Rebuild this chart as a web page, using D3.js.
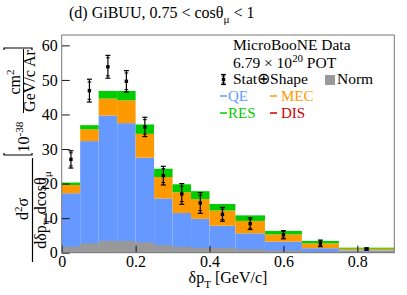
<!DOCTYPE html>
<html>
<head>
<meta charset="utf-8">
<script src="https://cdn.jsdelivr.net/npm/d3@7"></script>
<style>
  body { margin: 0; background: #fff; }
  text { font-family: "Liberation Serif", "Times New Roman", serif; }
</style>
</head>
<body>
<svg id="chart" width="407" height="295"></svg>
<script>
// ** Data **
const binEdges = [0, 0.05, 0.1, 0.15, 0.2, 0.25, 0.3, 0.35, 0.4, 0.47, 0.55, 0.65, 0.75, 0.9];
const qeVals   = [17.2, 32.3, 39.7, 37.5, 27.5, 15.7, 11.5, 9.8, 7.8, 5.6, 3.2, 1.3, 0.6];
const mecVals  = [2.4, 3.4, 4.9, 6.6, 6.9, 6.2, 6.0, 5.7, 4.4, 3.6, 2.1, 1.4, 0.55];
const disVals  = [0, 0, 0, 0, 0, 0, 0, 0, 0, 0, 0, 0, 0];
const resVals  = [0.7, 1.2, 2.2, 2.7, 2.7, 2.4, 2.3, 2.3, 1.9, 1.6, 1.0, 0.7, 0.3];
const normVals = [1.7, 2.7, 3.4, 3.4, 3.0, 2.2, 1.7, 1.4, 1.4, 1.0, 0.6, 0.3, 0.2];
const dataVals = [27.0, 46.9, 53.8, 49.6, 36.4, 22.3, 17.0, 14.4, 11.1, 8.4, 5.2, 2.7, 1.07];
const errTotal = [2.5, 3.3, 3.3, 3.1, 2.8, 2.7, 3.0, 3.0, 2.0, 1.7, 1.2, 0.95, 0.3];
const errStat  = [1.9, 2.5, 2.6, 2.4, 2.1, 2.0, 2.2, 2.2, 1.5, 1.3, 0.9, 0.7, 0.2];
const xTicks = [0, 0.2, 0.4, 0.6, 0.8];
const yTicks = [0, 10, 20, 30, 40, 50, 60];

// ** Style constants **
const colQE = "#6699ff", colMEC = "#ff9900", colRES = "#00cc00", colDIS = "#cc0000";
const colNorm = "#999999";
const font = 16;
const legFont = 15.5;
const legFontSmall = 15;

const svg = d3.select("#chart");
const plot = { left: 61.7, right: 394.3, top: 35, bottom: 252.7 };

const x = d3.scaleLinear().domain([0, 0.9]).range([plot.left, plot.right]);
const y = d3.scaleLinear().domain([0, 63]).range([plot.bottom, plot.top]);

// build bins
const bins = qeVals.map((q, i) => ({ x0: binEdges[i], x1: binEdges[i + 1] }));

// stacked layers, bottom to top
const layers = [
  { vals: qeVals, color: colQE },
  { vals: mecVals, color: colMEC },
  { vals: disVals, color: colDIS },
  { vals: resVals, color: colRES }
];

let base = qeVals.map(() => 0);
layers.forEach(layer => {
  bins.forEach((b, i) => {
    let lo = base[i], hi = base[i] + layer.vals[i];
    if (hi > lo) {
      svg.append("rect")
        .attr("x", x(b.x0))
        .attr("width", x(b.x1) - x(b.x0))
        .attr("y", y(hi))
        .attr("height", y(lo) - y(hi))
        .style("fill", layer.color);
    }
    base[i] = hi;
  });
});

// norm uncertainty band
bins.forEach((b, i) => {
  svg.append("rect")
    .attr("x", x(b.x0))
    .attr("width", x(b.x1) - x(b.x0))
    .attr("y", y(normVals[i]))
    .attr("height", y(0) - y(normVals[i]))
    .style("fill", colNorm);
});

// axes (ticks pointing inward)
const yAxis = svg.append("g")
  .attr("transform", `translate(${plot.left},0)`)
  .call(d3.axisLeft(y).tickValues(yTicks).tickSize(-8).tickPadding(4));
const xAxis = svg.append("g")
  .attr("transform", `translate(0,${plot.bottom})`)
  .call(d3.axisBottom(x).tickValues(xTicks).tickSize(-7).tickPadding(3)
        .tickFormat(d => d === 0 ? "0" : d.toFixed(1)));
[yAxis, xAxis].forEach(g => {
  g.select(".domain").remove();
  g.selectAll("text").style("font-size", font + "px")
    .style("font-family", '"Liberation Serif", serif').attr("fill", "#000");
  g.selectAll("line").attr("stroke", "#111");
});

// frame
svg.append("rect")
  .attr("x", plot.left).attr("y", plot.top)
  .attr("width", plot.right - plot.left).attr("height", plot.bottom - plot.top)
  .style("fill", "none").style("stroke", "#777").style("stroke-width", 1);

// data points with error bars
function drawPoint(g, cx, v, eTot, eStat) {
  g.append("line").attr("x1", cx).attr("x2", cx)
    .attr("y1", y(v + eTot)).attr("y2", y(v - eTot))
    .style("stroke", "#000").style("stroke-width", 1.2);
  [v + eTot, v - eTot].forEach(e => {
    g.append("line").attr("x1", cx - 2.5).attr("x2", cx + 2.5)
      .attr("y1", y(e)).attr("y2", y(e))
      .style("stroke", "#000").style("stroke-width", 1.2);
  });
  [v + eStat, v - eStat].forEach(e => {
    g.append("line").attr("x1", cx - 1.8).attr("x2", cx + 1.8)
      .attr("y1", y(e)).attr("y2", y(e))
      .style("stroke", "#000").style("stroke-width", 1);
  });
  g.append("rect").attr("x", cx - 1.7).attr("y", y(v) - 1.7)
    .attr("width", 3.4).attr("height", 3.4).style("fill", "#000");
}
const pts = svg.append("g");
bins.forEach((b, i) => {
  drawPoint(pts, x((b.x0 + b.x1) / 2), dataVals[i], errTotal[i], errStat[i]);
});

// rich text helper: parts = [{t, sub, sup}]
function richText(g, px, py, parts, size, anchor) {
  let t = g.append("text").attr("x", px).attr("y", py)
    .style("font-size", size + "px").attr("text-anchor", anchor || "start");
  let shift = 0;
  parts.forEach(p => {
    let target = p.sub ? 0.3 * size : p.sup ? -0.38 * size : 0;
    t.append("tspan").attr("dy", target - shift)
      .style("font-size", (p.sub || p.sup ? 0.7 * size : size) + "px")
      .style("fill", p.fill || "#000")
      .text(p.t);
    shift = target;
  });
  return t;
}

// title
richText(svg, 69, 18, [{ t: "(d) GiBUU, 0.75 < cosθ" }, { t: "μ", sub: true }, { t: " < 1" }], font);

// x title
richText(svg, 228, 283, [{ t: "δp" }, { t: "T", sub: true }, { t: " [GeV/c]" }], font, "middle");

// y title (rotated)
const yl = svg.append("g").attr("transform", "rotate(-90)");
// main fraction
richText(yl, -209, 28, [{ t: "d" }, { t: "2", sup: true }, { t: "σ" }], font, "middle");
richText(yl, -210, 46, [{ t: "dδp" }, { t: "T", sub: true }, { t: " dcosθ" }, { t: "μ", sub: true }], font, "middle");
yl.append("line").attr("x1", -262).attr("x2", -158).attr("y1", 32.5).attr("y2", 32.5)
  .style("stroke", "#000").style("stroke-width", 1.2);
// unit in brackets
richText(yl, -137, 29, [{ t: "10" }, { t: "-38", sup: true }], font, "middle");
richText(yl, -82, 20, [{ t: "cm" }, { t: "2", sup: true }], font, "middle");
richText(yl, -81, 35, [{ t: "GeV/c Ar" }], font, "middle");
yl.append("line").attr("x1", -113).attr("x2", -49).attr("y1", 23.5).attr("y2", 23.5)
  .style("stroke", "#000").style("stroke-width", 1);
yl.append("path").attr("d", "M-153,4 L-155,4 L-155,32 L-153,32")
  .style("fill", "none").style("stroke", "#000").style("stroke-width", 1.2);
yl.append("path").attr("d", "M-50,4 L-48,4 L-48,32 L-50,32")
  .style("fill", "none").style("stroke", "#000").style("stroke-width", 1.2);

// legend
const leg = svg.append("g");
richText(leg, 233, 50, [{ t: "MicroBooNE Data" }], legFont);
richText(leg, 233, 67.5, [{ t: "6.79 × 10" }, { t: "20", sup: true }, { t: " POT" }], legFont);
drawPoint(leg, 223.5, y.invert(79.5), y.invert(74.5) - y.invert(79.5), y.invert(76) - y.invert(79.5));
richText(leg, 233, 84, [{ t: "Stat⊕Shape" }], legFont);
leg.append("rect").attr("x", 325).attr("y", 75).attr("width", 10).attr("height", 10)
  .style("fill", colNorm);
richText(leg, 337, 84, [{ t: "Norm" }], legFont);

const legLines = [
  { label: "QE", color: colQE, lx: 220, tx: 228, ty: 101 },
  { label: "MEC", color: colMEC, lx: 270, tx: 281, ty: 101 },
  { label: "RES", color: colRES, lx: 220, tx: 228, ty: 118 },
  { label: "DIS", color: colDIS, lx: 270, tx: 281, ty: 118 }
];
legLines.forEach(d => {
  leg.append("line").attr("x1", d.lx).attr("x2", d.lx + 7)
    .attr("y1", d.ty - 5).attr("y2", d.ty - 5)
    .style("stroke", d.color).style("stroke-width", 1.5);
  richText(leg, d.tx, d.ty, [{ t: d.label, fill: d.color }], legFontSmall);
});
</script>
</body>
</html>
